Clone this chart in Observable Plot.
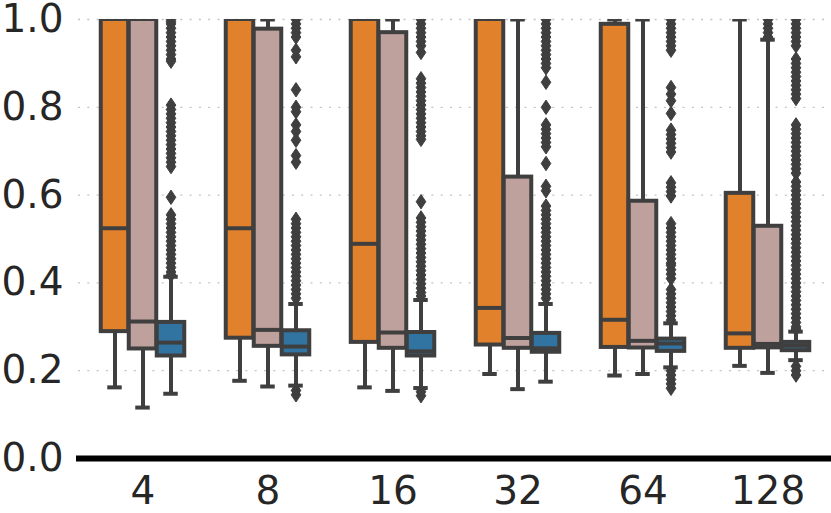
<!DOCTYPE html>
<html>
<head>
<meta charset="utf-8">
<script src="https://cdn.jsdelivr.net/npm/d3@7"></script>
<script src="https://cdn.jsdelivr.net/npm/@observablehq/plot@0.6"></script>
<style>
  html, body { margin: 0; padding: 0; background: #fff; }
</style>
</head>
<body>
<div id="chart"></div>
<script>
// ---- data ----
const groups = ["4", "8", "16", "32", "64", "128"];
const hues = ["A", "B", "C"];
const hueColors = ["#e1812c", "#bea09c", "#3274a1"];
const yTicks = [0, 0.2, 0.4, 0.6, 0.8, 1.0];
const gridTicks = [0.2, 0.4, 0.6, 0.8, 1.0];

// box summaries per hue (one value per group)
const loA  = [0.162, 0.177, 0.162, 0.1925, 0.189, 0.211];
const q1A  = [0.289, 0.274, 0.2645, 0.2585, 0.253, 0.251];
const medA = [0.5245, 0.5245, 0.489, 0.343, 0.316, 0.285];
const q3A  = [1.0, 1.0, 1.0, 1.0, 0.989, 0.604];
const hiA  = [1.0, 1.0, 1.0, 1.0, 1.0, 1.0];

const loB  = [0.116, 0.164, 0.154, 0.158, 0.1925, 0.195];
const q1B  = [0.2495, 0.2555, 0.251, 0.251, 0.2517, 0.252];
const medB = [0.312, 0.293, 0.287, 0.2745, 0.268, 0.261];
const q3B  = [1.0, 0.978, 0.970, 0.641, 0.586, 0.529];
const hiB  = [1.0, 1.0, 1.0, 1.0, 1.0, 0.954];

const loC  = [0.1475, 0.166, 0.1605, 0.175, 0.2076, 0.224];
const q1C  = [0.2335, 0.236, 0.2335, 0.242, 0.244, 0.2456];
const medC = [0.264, 0.255, 0.244, 0.251, 0.262, 0.257];
const q3C  = [0.310, 0.291, 0.287, 0.285, 0.272, 0.2645];
const hiC  = [0.414, 0.352, 0.361, 0.352, 0.308, 0.289];

// outliers
const outB128 = [0.96, 0.97, 0.98, 0.99, 1.0];
const outC4 = [1.0, 0.995, 0.99, 0.98, 0.97, 0.96, 0.95, 0.94, 0.93, 0.92, 0.91, 0.905,
  0.805, 0.795, 0.785, 0.775, 0.765, 0.755, 0.745, 0.735, 0.725, 0.715, 0.705, 0.695, 0.685, 0.675, 0.665,
  0.595,
  0.555, 0.545, 0.535, 0.525, 0.515, 0.505, 0.495, 0.485, 0.475, 0.465, 0.455, 0.445, 0.435, 0.425, 0.418];
const outC8 = [1.0, 0.99, 0.98, 0.97, 0.96, 0.93, 0.915, 0.84, 0.80, 0.79, 0.76, 0.745, 0.725, 0.69, 0.675,
  0.545, 0.535, 0.525, 0.515, 0.505, 0.495, 0.485, 0.475, 0.465, 0.455, 0.445, 0.435, 0.425, 0.415,
  0.405, 0.395, 0.385, 0.375, 0.365,
  0.155, 0.145];
const outC16 = [1.0, 0.99, 0.98, 0.97, 0.96, 0.95, 0.94, 0.925,
  0.865, 0.855, 0.845, 0.835, 0.825, 0.815, 0.805, 0.795, 0.785, 0.775, 0.765, 0.755, 0.745, 0.735, 0.727,
  0.585,
  0.548, 0.538, 0.528, 0.518, 0.508, 0.498, 0.488, 0.478, 0.468, 0.458, 0.448, 0.438, 0.428, 0.418,
  0.408, 0.398, 0.388, 0.378, 0.37,
  0.152, 0.143];
const outC32 = [1.0, 0.99, 0.98, 0.97, 0.96, 0.95, 0.94, 0.93, 0.92, 0.91, 0.9, 0.89,
  0.857, 0.80, 0.76, 0.75, 0.74, 0.73, 0.72, 0.71, 0.672, 0.62, 0.61,
  0.575, 0.565, 0.555, 0.545, 0.535, 0.525, 0.515, 0.505, 0.495, 0.485, 0.475, 0.465, 0.455, 0.445,
  0.435, 0.425, 0.415, 0.405, 0.395, 0.385, 0.375, 0.365];
const outC64 = [1.0, 0.99, 0.98, 0.97, 0.96, 0.95, 0.94, 0.93,
  0.845, 0.83, 0.815, 0.786,
  0.748, 0.738, 0.728, 0.718, 0.708, 0.698,
  0.628, 0.618, 0.608, 0.598,
  0.535, 0.525, 0.515, 0.505, 0.495, 0.485, 0.475, 0.465, 0.455, 0.445, 0.44, 0.43, 0.42, 0.41,
  0.385, 0.375, 0.365, 0.355, 0.345, 0.335, 0.325, 0.315,
  0.2, 0.19, 0.18, 0.17, 0.16];
const outC128 = [1.0, 0.99, 0.98, 0.97, 0.96, 0.95, 0.94,
  0.91, 0.9, 0.89, 0.88, 0.87, 0.86, 0.85, 0.84, 0.83, 0.82,
  0.76, 0.75, 0.74, 0.73, 0.72, 0.71, 0.70, 0.69, 0.68, 0.67, 0.66, 0.65,
  0.63, 0.62, 0.61, 0.60, 0.59, 0.58, 0.57, 0.56, 0.55, 0.54, 0.53, 0.52, 0.51, 0.50, 0.49, 0.48,
  0.47, 0.46, 0.45, 0.44, 0.43, 0.42, 0.41, 0.40, 0.39, 0.38, 0.37, 0.36, 0.35, 0.34, 0.33, 0.32,
  0.31, 0.30, 0.295,
  0.21, 0.2, 0.19];

// ---- build tables ----
const summaries = {
  A: [loA, q1A, medA, q3A, hiA],
  B: [loB, q1B, medB, q3B, hiB],
  C: [loC, q1C, medC, q3C, hiC]
};
const boxes = [];
hues.forEach(h => {
  const [lo, q1, med, q3, hi] = summaries[h];
  groups.forEach((g, i) => boxes.push({group: g, hue: h, lo: lo[i], q1: q1[i], med: med[i], q3: q3[i], hi: hi[i]}));
});
const outliers = [];
const addOut = (g, h, arr) => arr.forEach(v => outliers.push({group: g, hue: h, value: v}));
addOut("128", "B", outB128);
addOut("4", "C", outC4);
addOut("8", "C", outC8);
addOut("16", "C", outC16);
addOut("32", "C", outC32);
addOut("64", "C", outC64);
addOut("128", "C", outC128);

// ---- layout ----
const W = 831, H = 513;
const mL = 78, mR = 0, mT = 19, mB = 55;
const bandW = (W - mL - mR) / groups.length;
const boxW = 28;
const capW = 15;
const edge = "#3f3f3f";
const lw = 4;
const boxInset = (bandW - boxW) / 2;
const capInset = (bandW - capW) / 2;

const thinDiamond = {
  draw(context, size) {
    const r = Math.sqrt(size / Math.PI);
    context.moveTo(0, -1.2 * r);
    context.lineTo(0.8 * r, 0);
    context.lineTo(0, 1.2 * r);
    context.lineTo(-0.8 * r, 0);
    context.closePath();
  }
};

const marks = [
  Plot.ruleY(gridTicks, {stroke: "#c4c4c4", strokeWidth: 1.3, strokeDasharray: "2,7.3"})
];

hues.forEach((h, k) => {
  const dx = (k - 1) * boxW;
  const dataBox = boxes.filter(d => d.hue === h);
  const dataOut = outliers.filter(d => d.hue === h);
  marks.push(
    Plot.ruleX(dataBox, {x: "group", y1: "q3", y2: "hi", dx, stroke: edge, strokeWidth: lw, clip: true}),
    Plot.ruleX(dataBox, {x: "group", y1: "lo", y2: "q1", dx, stroke: edge, strokeWidth: lw, clip: true}),
    Plot.tickY(dataBox, {x: "group", y: "hi", dx, stroke: edge, strokeWidth: lw, insetLeft: capInset, insetRight: capInset, clip: true}),
    Plot.tickY(dataBox, {x: "group", y: "lo", dx, stroke: edge, strokeWidth: lw, insetLeft: capInset, insetRight: capInset, clip: true}),
    Plot.barY(dataBox, {x: "group", y1: "q1", y2: "q3", dx, fill: hueColors[k], stroke: edge, strokeWidth: lw,
      insetLeft: boxInset, insetRight: boxInset, clip: true}),
    Plot.tickY(dataBox, {x: "group", y: "med", dx, stroke: edge, strokeWidth: lw, insetLeft: boxInset, insetRight: boxInset, clip: true}),
    Plot.dot(dataOut, {x: "group", y: "value", dx, symbol: thinDiamond, r: 6, fill: edge, stroke: edge, strokeWidth: 1, clip: true})
  );
});

marks.push(Plot.ruleY([0], {stroke: "#000", strokeWidth: 6, insetLeft: -2}));

const chart = Plot.plot({
  width: W,
  height: H,
  marginLeft: mL,
  marginRight: mR,
  marginTop: mT,
  marginBottom: mB,
  style: {fontFamily: "DejaVu Sans", fontSize: "39px", color: "#262626", background: "#fff", overflow: "visible"},
  x: {domain: groups, padding: 0, tickSize: 0, tickPadding: 18, label: null},
  y: {domain: [0, 1], ticks: yTicks, tickFormat: d3.format(".1f"), tickSize: 0, tickPadding: 15, label: null},
  marks
});
document.getElementById("chart").appendChild(chart);
</script>
</body>
</html>
